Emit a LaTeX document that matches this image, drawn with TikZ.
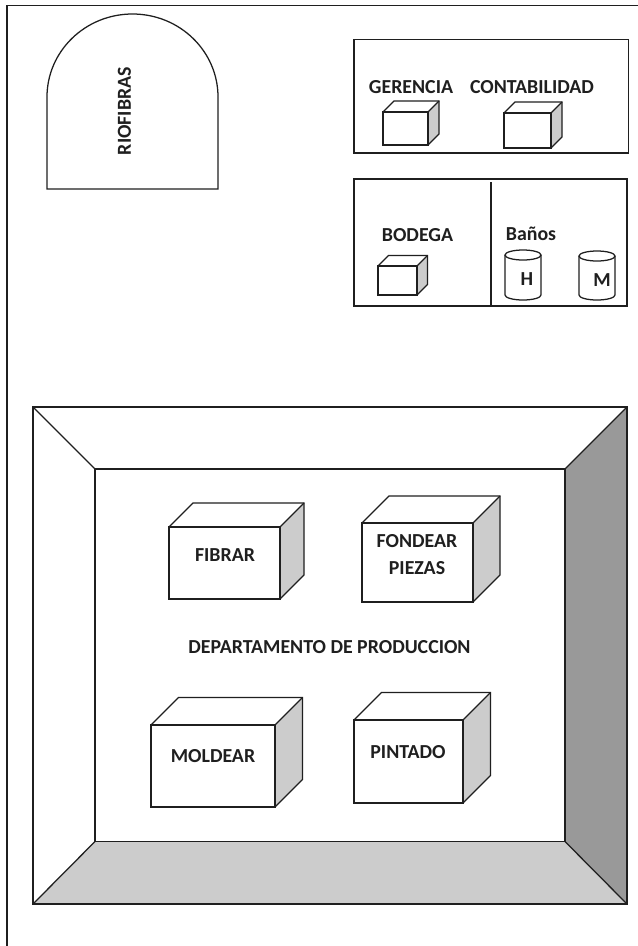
\documentclass[tikz,border=0pt]{standalone}
\usepackage{fontspec}
\setmainfont{Carlito}
\newcommand{\cubo}[5]{% x1,y1 (front top-left), x2,y2 (front bottom-right), depth
  \fill[white] (#1,#2) rectangle (#3,#4);
  \fill[cubeside] (#3,#2) -- ++(#5,-#5) -- ++(0,#4-#2) -- (#3,#4) -- cycle;
  \draw[ln,line join=miter] (#1,#2) rectangle (#3,#4);
  \draw[ln,line join=miter] (#1,#2) -- ++(#5,-#5) -- ++(#3-#1,0) -- ++(0,#4-#2) -- (#3,#4);
  \draw[ln] (#3,#2) -- ++(#5,-#5);
}
\newcommand{\cilindro}[3]{% x1, x2, ytop
  \draw[ln] (#1,#3+5) -- (#1,295) arc[x radius={(#2-#1)/2},y radius=5,start angle=180,end angle=0] -- (#2,#3+5);
  \draw[ln] ({(#1+#2)/2},#3+5) ellipse[x radius={(#2-#1)/2},y radius=5];
}
\definecolor{cubeside}{gray}{0.8}
\definecolor{floorgray}{gray}{0.8}
\definecolor{wallgray}{gray}{0.6}
\definecolor{inkk}{gray}{0.12}
\tikzset{
  x=0.75pt,y=-0.75pt,
  ln/.style={draw=inkk,line width=0.95pt},
  lab/.style={font=\bfseries\fontsize{14.9pt}{20.3pt}\selectfont,text=inkk,inner sep=0pt,align=center},
}
\begin{document}
\begin{tikzpicture}
\useasboundingbox (0,0) rectangle (638,946);
\fill[white] (0,0) rectangle (638,946);
% page border
\draw[ln] (638,5.5) -- (7,5.5) -- (7,946);
% arch
\draw[ln] (47,189) -- (47,97) arc[x radius=85.5,y radius=83,start angle=180,end angle=360] -- (218,189) -- cycle;
\node[lab,rotate=90] (riofibras) at (124.5,111) {RIOFIBRAS};
% offices
\draw[ln] (354,39.5) rectangle (628.5,153);
\node[lab] (gerencia) at (411,87.5) {GERENCIA};
\node[lab] (contabilidad) at (532,87.5) {CONTABILIDAD};
\cubo{383}{112}{428}{145}{11}
\cubo{504}{113}{551}{148}{11}
% warehouse and toilets
\draw[ln] (354,179) rectangle (627,306);
\draw[ln] (491,182) -- (491,307);
\node[lab] (bodega) at (417.5,235) {BODEGA};
\node[lab] (banos) at (531,233.5) {Baños};
\cubo{378}{266}{417}{295}{10.5}
\cilindro{505}{541}{250}
\cilindro{579}{615}{251}
\node[lab] (h) at (527,279) {H};
\node[lab] (m) at (602,280) {M};
% production hall
\fill[floorgray] (33,904) -- (95,841.5) -- (565,841.5) -- (627,904) -- cycle;
\fill[wallgray] (627,407) -- (565,469) -- (565,841.5) -- (627,904) -- cycle;
\draw[ln] (33,407) rectangle (627,904);
\draw[ln] (95,469) rectangle (565,841.5);
\draw[ln] (33,407) -- (95,469);
\draw[ln] (627,407) -- (565,469);
\draw[ln] (33,904) -- (95,841.5);
\draw[ln] (627,904) -- (565,841.5);
\cubo{169}{527}{280}{599}{24}
\cubo{362}{523}{473}{602}{27}
\cubo{151}{725}{275}{807}{27.5}
\cubo{354}{720}{463}{803}{27.5}
\node[lab] (fibrar) at (225,555) {FIBRAR};
\node[lab] (fondear) at (417,555) {FONDEAR\\PIEZAS};
\node[lab] (moldear) at (213,756) {MOLDEAR};
\node[lab] (pintado) at (408,752) {PINTADO};
\node[lab] (depto) at (329.5,647.5) {DEPARTAMENTO DE PRODUCCION};
\end{tikzpicture}
\end{document}
